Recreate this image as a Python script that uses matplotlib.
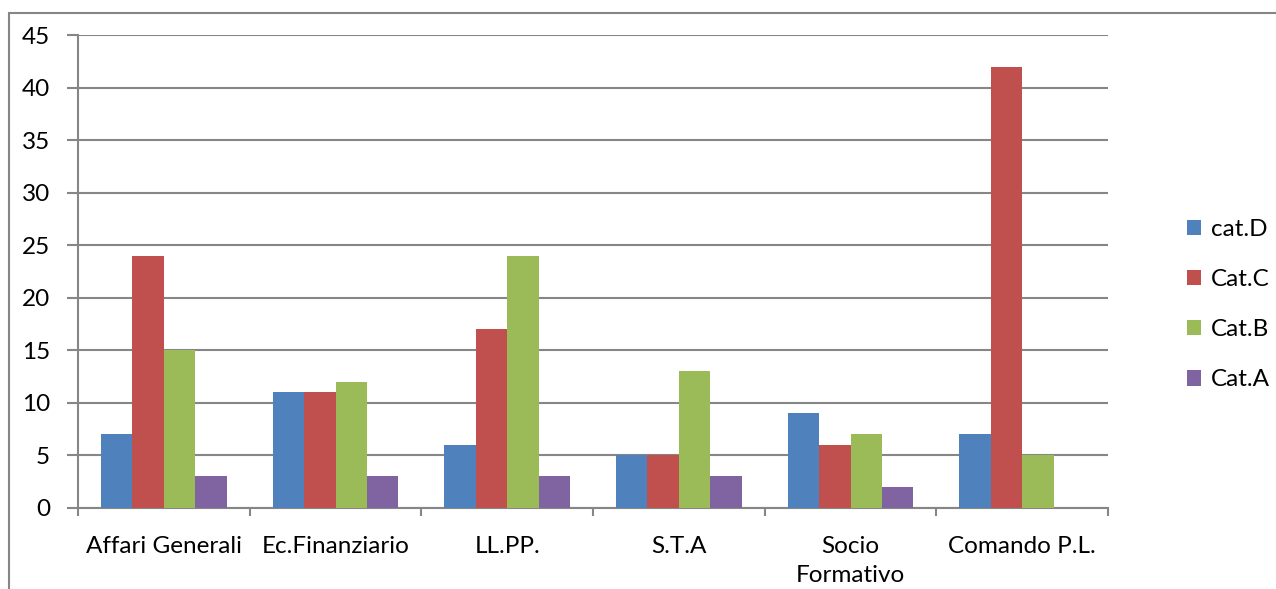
import numpy as np
import matplotlib
matplotlib.use("Agg")
import matplotlib.pyplot as plt
from matplotlib.patches import Rectangle

# data
categories = ["Affari Generali", "Ec.Finanziario", "LL.PP.", "S.T.A", "Socio\nFormativo", "Comando P.L."]
cat_d = [7, 11, 6, 5, 9, 7]
cat_c = [24, 11, 17, 5, 6, 42]
cat_b = [15, 12, 24, 13, 7, 5]
cat_a = [3, 3, 3, 3, 2, 0]
series_names = ["cat.D", "Cat.C", "Cat.B", "Cat.A"]
colors = ["#4F81BD", "#C0504D", "#9BBB59", "#8064A2"]

plt.rcParams['font.family'] = ['Lato', 'DejaVu Sans']
grid_col = "#868686"
fs = 17.5

fig = plt.figure(figsize=(12.76, 5.89), dpi=100)
ax = fig.add_axes([78/1276, 1-508/589, (1108-78)/1276, (508-35)/589])

# outer chart frame
fig.patches.append(Rectangle((9/1276, -0.1), 1.2, 1.1 - 13/589, transform=fig.transFigure,
                             fill=False, edgecolor=grid_col, linewidth=1.5))

x = np.arange(len(categories))
w = 0.183
for i, (vals, name, c) in enumerate(zip([cat_d, cat_c, cat_b, cat_a], series_names, colors)):
    ax.bar(x + (i - 1.5) * w, vals, w, color=c, label=name, zorder=3)

ax.set_xlim(-0.5, len(categories) - 0.5)
ax.set_ylim(0, 45)
ax.set_yticks(range(0, 46, 5))
ax.yaxis.grid(True, color=grid_col, linewidth=1.5, zorder=0)
ax.set_axisbelow(True)

ax.set_xticks(x)
ax.set_xticklabels(categories, fontsize=fs, linespacing=1.5)
ax.tick_params(axis='x', length=0, pad=20)
ax.set_xticks(np.arange(-0.5, len(categories)), minor=True)
ax.tick_params(axis='x', which='minor', length=6, width=1.5, color=grid_col)
ax.tick_params(axis='y', length=8, width=1.5, color=grid_col, labelsize=fs, pad=12)

for s in ["top", "right"]:
    ax.spines[s].set_visible(False)
for s in ["left", "bottom"]:
    ax.spines[s].set_color(grid_col)
    ax.spines[s].set_linewidth(1.5)

ax.legend(loc="center left", bbox_to_anchor=(1.055, 0.43), frameon=False, fontsize=fs,
          handlelength=0.6, handleheight=0.6, labelspacing=1.2, handletextpad=0.4)

fig.savefig("out.png", dpi=100)
